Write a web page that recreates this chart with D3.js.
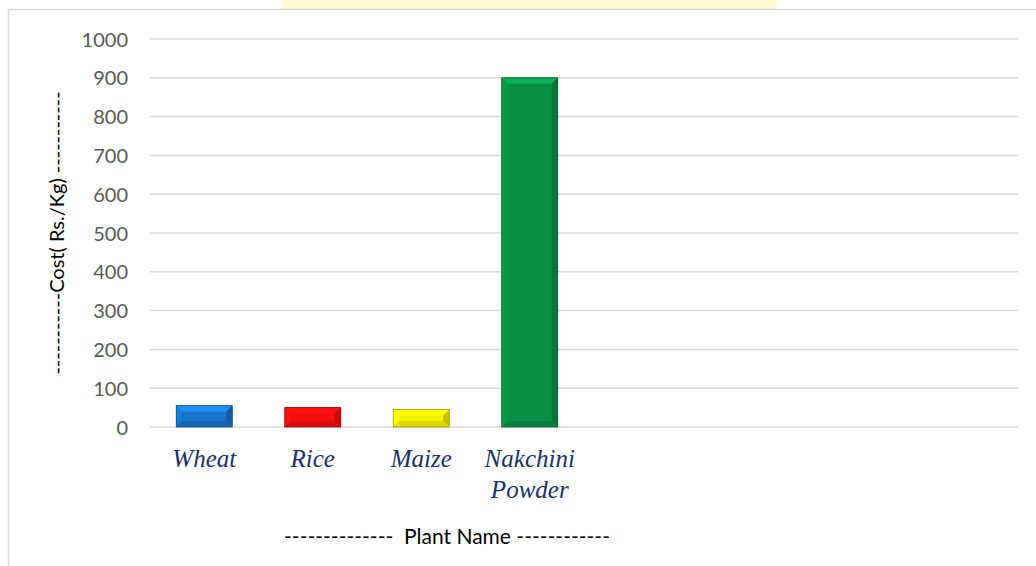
<!DOCTYPE html>
<html><head><meta charset="utf-8">
<script src="https://cdn.jsdelivr.net/npm/d3@7"></script>
<style>body{margin:0;background:#fff}svg{display:block}</style>
</head><body>
<svg id="c" width="1036" height="566"></svg>
<script>
const categories = ["Wheat","Rice","Maize","Nakchini Powder","","","",""];
const slotIds = ["c1","c2","c3","c4","c5","c6","c7","c8"];
const values = [55, 50, 45, 900];
const barColors = ["#1874c8","#f40d0d","#f5f000","#0b8f45"];
const yTicks = [0,100,200,300,400,500,600,700,800,900,1000];
const yTitle = "-----------Cost( Rs./Kg) -----------";
const xTitle = "--------------  Plant Name ------------";

const svg = d3.select("#c");
const W=1036,H=566;
const m={left:150,right:18,top:39,bottom:139};
svg.append("rect").attr("x",281).attr("y",0).attr("width",496).attr("height",9).attr("fill","#fffbd2");
svg.append("rect").attr("x",8.5).attr("y",9.5).attr("width",1100).attr("height",700)
  .attr("fill","none").attr("stroke","#d9d9d9").attr("stroke-width",1.5);

const x = d3.scaleBand().domain(slotIds).range([m.left, W-m.right]).paddingInner(0.484).paddingOuter(0.242);
const y = d3.scaleLinear().domain([0,1000]).range([H-m.bottom, m.top]);

const grid = svg.append("g");
grid.selectAll("line").data(yTicks).join("line")
  .attr("x1",m.left).attr("x2",W-m.right)
  .attr("y1",d=>y(d)).attr("y2",d=>y(d))
  .attr("stroke","#d9d9d9").attr("stroke-width",1.5);

const yAxis = svg.append("g").attr("transform",`translate(${m.left-22},0)`)
  .call(d3.axisLeft(y).tickValues(yTicks).tickFormat(d3.format("d")).tickSize(0).tickPadding(0));
yAxis.select(".domain").remove();
yAxis.selectAll("text").attr("fill","#595959").style("font-family","Lato, 'Open Sans', sans-serif").style("font-size","20px").attr("dy","0.35em");

const bars = svg.append("g");
const bw = x.bandwidth();
const bev = 6;
values.forEach((v,i)=>{
  const x0 = x(slotIds[i]), x1 = x0+bw, y0 = y(v), y1 = y(0);
  const c = d3.color(barColors[i]);
  const g = bars.append("g");
  g.append("rect").attr("x",x0).attr("y",y0).attr("width",bw).attr("height",y1-y0).attr("fill",c.formatHex());
  const b = Math.min(bev, (y1-y0)/2);
  g.append("polygon").attr("points",[[x0,y0],[x1,y0],[x1-bev,y0+b],[x0+bev,y0+b]].join(" "))
    .attr("fill",c.brighter(0.6).formatHex());
  g.append("polygon").attr("points",[[x0,y0],[x0+bev,y0+b],[x0+bev,y1-b],[x0,y1]].join(" "))
    .attr("fill",c.brighter(0.2).formatHex());
  g.append("polygon").attr("points",[[x1,y0],[x1-bev,y0+b],[x1-bev,y1-b],[x1,y1]].join(" "))
    .attr("fill",c.darker(0.6).formatHex());
  g.append("polygon").attr("points",[[x0,y1],[x1,y1],[x1-bev,y1-b],[x0+bev,y1-b]].join(" "))
    .attr("fill",c.darker(0.3).formatHex());
  g.append("rect").attr("x",x0).attr("y",y0).attr("width",bw).attr("height",y1-y0)
    .attr("fill","none").attr("stroke",c.darker(1.2).formatHex()).attr("stroke-width",0.8);
});

const lab = svg.append("g");
categories.forEach((c,i)=>{
  if(!c) return;
  const cx = x(slotIds[i]) + bw/2;
  const words = c.split(" ");
  const t = lab.append("text").attr("x",cx).attr("y",467).attr("text-anchor","middle")
    .attr("fill","#1b3168").style("font-family","'Liberation Serif','Times New Roman',serif")
    .style("font-style","italic").style("font-size","25px");
  words.forEach((w,k)=>t.append("tspan").attr("x",cx).attr("dy",k?31:0).text(w));
});

svg.append("text").attr("transform",`translate(64,233) rotate(-90)`).attr("text-anchor","middle")
  .attr("fill","#000").style("font-family","Lato, 'Open Sans', sans-serif").style("font-size","20px").text(yTitle);
svg.append("text").attr("x",447).attr("y",544).attr("text-anchor","middle").attr("xml:space","preserve")
  .style("white-space","pre")
  .attr("fill","#000").style("font-family","Lato, 'Open Sans', sans-serif").style("font-size","21px").text(xTitle);
</script>
</body></html>
